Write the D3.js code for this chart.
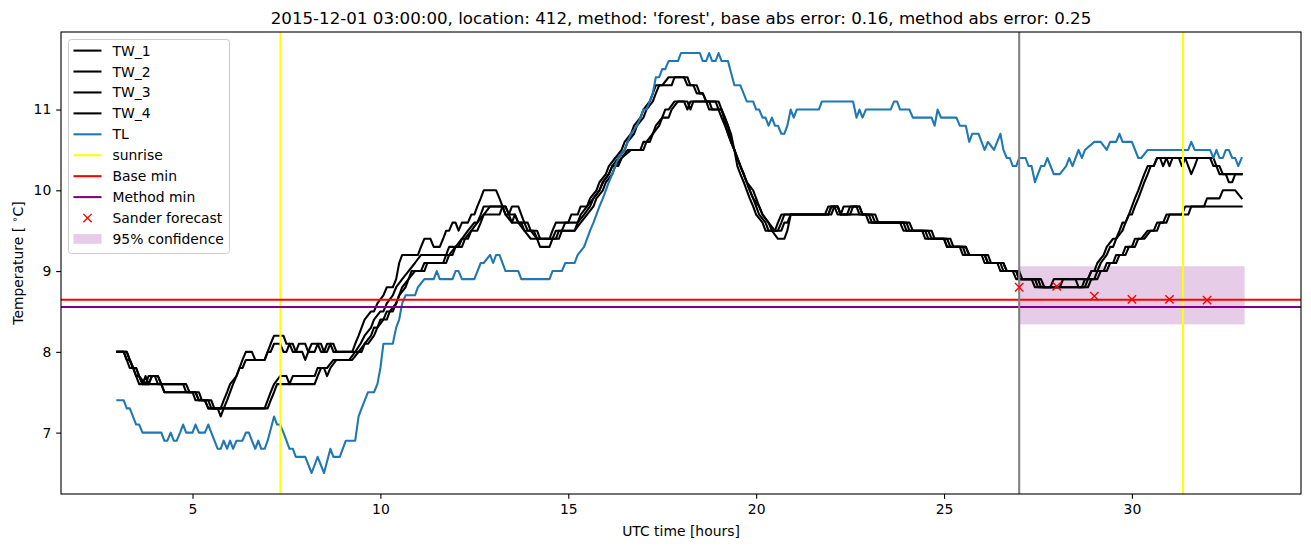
<!DOCTYPE html>
<html><head><meta charset="utf-8">
<script src="https://cdn.jsdelivr.net/npm/d3@7"></script>
<style>body{margin:0;background:#fff} svg{display:block} text{font-family:"DejaVu Sans",sans-serif;fill:#000}</style>
</head><body><svg id="c" width="1311" height="547"></svg>
<script>
// ---- data (time in hours UTC, temperature in °C) ----
const TW_1 = [[3.0,8.0],[3.17,8.0],[3.25,7.9],[3.33,7.8],[3.42,7.8],[3.5,7.7],[3.58,7.6],[3.67,7.6],[3.75,7.7],[3.83,7.6],[3.92,7.7],[4.08,7.7],[4.17,7.6],[4.83,7.6],[4.92,7.5],[5.08,7.5],[5.17,7.4],[5.33,7.4],[5.42,7.3],[5.67,7.3],[5.75,7.2],[5.83,7.3],[5.92,7.4],[6.0,7.5],[6.08,7.6],[6.17,7.7],[6.25,7.8],[6.33,7.9],[6.42,8.0],[6.58,8.0],[6.67,7.9],[6.92,7.9],[7.0,8.0],[7.08,8.1],[7.17,8.2],[7.42,8.2],[7.5,8.1],[7.67,8.1],[7.75,8.0],[7.83,8.1],[8.0,8.1],[8.08,8.0],[8.17,8.1],[8.42,8.1],[8.5,8.0],[8.58,8.1],[8.75,8.1],[8.83,8.0],[9.25,8.0],[9.33,8.1],[9.42,8.2],[9.5,8.3],[9.58,8.4],[9.75,8.5],[9.83,8.5],[9.92,8.6],[10.08,8.7],[10.17,8.8],[10.33,8.8],[10.42,8.9],[10.5,9.1],[10.58,9.2],[11.0,9.2],[11.08,9.3],[11.17,9.4],[11.33,9.4],[11.42,9.3],[11.58,9.3],[11.67,9.4],[11.75,9.5],[11.83,9.5],[11.92,9.6],[12.0,9.6],[12.08,9.5],[12.17,9.6],[12.33,9.6],[12.42,9.7],[12.5,9.7],[12.58,9.8],[12.67,9.9],[12.75,10.0],[13.08,10.0],[13.17,9.9],[13.25,9.8],[13.33,9.7],[13.42,9.7],[13.5,9.8],[13.67,9.8],[13.75,9.7],[13.83,9.6],[13.92,9.5],[14.17,9.5],[14.25,9.4],[14.5,9.4],[14.58,9.5],[14.67,9.6],[15.0,9.6],[15.08,9.7],[15.25,9.7],[15.33,9.8],[15.5,9.8],[15.58,9.9],[15.75,10.0],[15.83,10.1],[16.0,10.2],[16.08,10.3],[16.25,10.4],[16.42,10.5],[16.5,10.6],[16.67,10.7],[16.75,10.8],[16.92,10.9],[17.0,11.0],[17.17,11.1],[17.25,11.2],[17.33,11.3],[17.5,11.3],[17.67,11.4],[18.17,11.4],[18.25,11.3],[18.42,11.3],[18.5,11.2],[18.58,11.2],[18.67,11.1],[18.92,11.1],[19.0,11.0],[19.08,11.0],[19.17,10.9],[19.25,10.8],[19.33,10.6],[19.42,10.5],[19.5,10.3],[19.58,10.2],[19.67,10.1],[19.75,10.0],[19.83,9.9],[19.92,9.8],[20.0,9.7],[20.17,9.6],[20.25,9.5],[20.5,9.5],[20.58,9.6],[20.67,9.7],[21.83,9.7],[21.92,9.8],[22.17,9.8],[22.25,9.7],[22.33,9.8],[22.67,9.8],[22.75,9.7],[23.0,9.7],[23.08,9.6],[23.83,9.6],[23.92,9.5],[24.42,9.5],[24.5,9.4],[25.0,9.4],[25.08,9.3],[25.42,9.3],[25.5,9.2],[26.0,9.2],[26.08,9.1],[26.42,9.1],[26.5,9.0],[26.83,9.0],[26.92,8.9],[27.33,8.9],[27.42,8.8],[28.08,8.8],[28.17,8.9],[28.83,8.9],[28.92,9.0],[29.08,9.0],[29.17,9.1],[29.33,9.2],[29.42,9.3],[29.5,9.3],[29.58,9.4],[29.75,9.5],[29.83,9.6],[29.92,9.7],[30.0,9.7],[30.08,9.8],[30.17,9.9],[30.25,10.0],[30.33,10.1],[30.42,10.2],[30.5,10.3],[30.58,10.3],[30.67,10.4],[30.92,10.4],[31.0,10.3],[31.08,10.4],[31.42,10.4],[31.5,10.3],[31.58,10.2],[31.67,10.3],[31.75,10.4],[32.17,10.4],[32.25,10.3],[32.33,10.2],[32.5,10.2],[32.58,10.1],[32.67,10.1],[32.75,10.2],[32.92,10.2]];
const TW_2 = [[3.0,8.0],[3.25,8.0],[3.33,7.9],[3.42,7.8],[3.5,7.8],[3.58,7.7],[3.67,7.6],[3.75,7.6],[3.83,7.7],[4.0,7.7],[4.08,7.6],[4.75,7.6],[4.83,7.5],[5.0,7.5],[5.08,7.4],[5.33,7.4],[5.42,7.3],[5.75,7.3],[5.83,7.4],[5.92,7.5],[6.0,7.6],[6.17,7.7],[6.25,7.8],[6.33,7.8],[6.42,7.9],[6.92,7.9],[7.0,8.0],[7.08,8.0],[7.17,8.1],[7.33,8.1],[7.42,8.0],[7.5,8.0],[7.58,8.1],[7.67,8.0],[7.92,8.0],[8.0,7.9],[8.08,8.0],[8.25,8.0],[8.33,8.1],[8.42,8.0],[8.58,8.0],[8.67,8.1],[8.75,8.0],[9.33,8.0],[9.47,8.1],[9.58,8.2],[9.75,8.3],[9.83,8.4],[10.0,8.5],[10.08,8.5],[10.17,8.6],[10.33,8.7],[10.42,8.8],[10.58,8.9],[10.75,9.0],[10.92,9.1],[11.08,9.2],[11.75,9.2],[11.83,9.3],[12.08,9.3],[12.17,9.4],[12.33,9.5],[12.5,9.6],[12.58,9.6],[12.67,9.7],[12.75,9.8],[13.25,9.8],[13.33,9.7],[13.5,9.6],[13.58,9.7],[13.67,9.6],[13.83,9.5],[14.08,9.5],[14.17,9.4],[14.25,9.3],[14.5,9.3],[14.58,9.4],[14.67,9.5],[14.83,9.5],[14.92,9.6],[15.25,9.6],[15.33,9.7],[15.5,9.8],[15.67,9.9],[15.83,10.0],[15.92,10.1],[16.08,10.2],[16.17,10.3],[16.33,10.4],[16.5,10.5],[16.58,10.6],[16.75,10.7],[16.83,10.8],[17.0,10.9],[17.08,11.0],[17.25,11.1],[17.33,11.2],[17.42,11.3],[17.75,11.3],[17.83,11.4],[18.08,11.4],[18.17,11.3],[18.33,11.3],[18.42,11.2],[18.58,11.2],[18.67,11.1],[19.0,11.1],[19.08,11.0],[19.25,10.8],[19.33,10.7],[19.42,10.5],[19.5,10.4],[19.58,10.3],[19.75,10.1],[19.83,10.0],[19.92,9.9],[20.0,9.8],[20.08,9.7],[20.25,9.6],[20.33,9.5],[20.58,9.5],[20.67,9.6],[20.75,9.7],[21.92,9.7],[22.0,9.8],[22.08,9.8],[22.17,9.7],[22.42,9.7],[22.5,9.8],[22.75,9.8],[22.83,9.7],[23.08,9.7],[23.17,9.6],[23.92,9.6],[24.0,9.5],[24.5,9.5],[24.58,9.4],[25.08,9.4],[25.17,9.3],[25.5,9.3],[25.58,9.2],[26.08,9.2],[26.17,9.1],[26.5,9.1],[26.58,9.0],[26.92,9.0],[27.0,8.9],[27.42,8.9],[27.5,8.8],[27.83,8.8],[27.92,8.9],[28.5,8.9],[28.58,8.8],[28.67,8.8],[28.75,8.9],[28.83,8.9],[28.92,9.0],[29.0,9.0],[29.08,9.1],[29.25,9.2],[29.33,9.3],[29.5,9.4],[29.58,9.4],[29.67,9.5],[29.75,9.6],[29.83,9.6],[29.92,9.7],[30.08,9.9],[30.17,10.0],[30.25,10.1],[30.33,10.2],[30.42,10.3],[30.58,10.3],[30.67,10.4],[30.75,10.4],[30.83,10.3],[30.92,10.4],[31.25,10.4],[31.33,10.3],[31.42,10.4],[32.08,10.4],[32.17,10.3],[32.33,10.3],[32.42,10.2],[32.92,10.2]];
const TW_3 = [[3.0,8.0],[3.17,8.0],[3.25,7.9],[3.33,7.9],[3.42,7.8],[3.5,7.7],[3.58,7.7],[3.67,7.6],[3.83,7.6],[3.92,7.7],[4.08,7.7],[4.17,7.6],[4.25,7.5],[5.08,7.5],[5.17,7.4],[5.42,7.4],[5.5,7.3],[6.92,7.3],[7.0,7.4],[7.08,7.5],[7.17,7.6],[7.33,7.7],[7.5,7.7],[7.58,7.6],[7.67,7.7],[8.25,7.7],[8.33,7.8],[8.5,7.8],[8.58,7.7],[8.67,7.8],[8.83,7.9],[9.17,7.9],[9.33,8.0],[9.5,8.0],[9.58,8.1],[9.75,8.2],[9.83,8.3],[9.92,8.3],[10.08,8.4],[10.17,8.5],[10.33,8.5],[10.42,8.6],[10.5,8.7],[10.67,8.8],[10.75,8.9],[10.83,9.0],[11.08,9.0],[11.17,9.1],[11.67,9.1],[11.75,9.2],[11.92,9.2],[12.0,9.3],[12.17,9.3],[12.25,9.4],[12.42,9.5],[12.58,9.5],[12.67,9.6],[12.75,9.7],[12.92,9.8],[13.33,9.8],[13.42,9.7],[13.58,9.7],[13.67,9.6],[13.92,9.6],[14.0,9.5],[14.17,9.4],[14.75,9.4],[14.83,9.5],[15.17,9.5],[15.25,9.6],[15.42,9.7],[15.58,9.8],[15.67,9.9],[15.83,10.0],[15.92,10.1],[16.08,10.2],[16.17,10.3],[16.33,10.3],[16.42,10.4],[16.58,10.5],[16.92,10.5],[17.0,10.6],[17.17,10.6],[17.25,10.7],[17.42,10.8],[17.5,10.9],[17.67,10.9],[17.75,11.0],[17.92,11.1],[18.17,11.1],[18.25,11.0],[18.33,11.1],[18.67,11.1],[18.75,11.0],[19.0,11.0],[19.08,10.9],[19.17,10.8],[19.33,10.6],[19.42,10.5],[19.58,10.3],[19.67,10.2],[19.75,10.1],[19.92,10.0],[20.0,9.9],[20.08,9.8],[20.17,9.7],[20.33,9.6],[20.42,9.5],[20.58,9.4],[20.75,9.4],[20.83,9.5],[20.92,9.7],[22.0,9.7],[22.08,9.8],[22.17,9.8],[22.25,9.7],[22.5,9.7],[22.58,9.8],[22.75,9.8],[22.83,9.7],[22.92,9.7],[23.0,9.6],[24.0,9.6],[24.08,9.5],[24.58,9.5],[24.67,9.4],[25.0,9.4],[25.08,9.3],[25.58,9.3],[25.67,9.2],[26.08,9.2],[26.17,9.1],[26.58,9.1],[26.67,9.0],[26.92,9.0],[27.0,8.9],[27.5,8.9],[27.58,8.8],[28.75,8.8],[28.83,8.9],[29.0,8.9],[29.08,9.0],[29.25,9.0],[29.33,9.1],[29.5,9.1],[29.58,9.2],[29.75,9.2],[29.83,9.3],[30.0,9.3],[30.08,9.4],[30.25,9.4],[30.42,9.5],[30.58,9.5],[30.67,9.6],[30.83,9.6],[30.92,9.7],[31.33,9.7],[31.42,9.8],[31.92,9.8],[32.0,9.9],[32.33,9.9],[32.42,10.0],[32.75,10.0],[32.92,9.9]];
const TW_4 = [[3.0,8.0],[3.25,8.0],[3.33,7.9],[3.42,7.8],[3.5,7.8],[3.58,7.7],[3.75,7.6],[4.17,7.6],[4.25,7.5],[5.17,7.5],[5.25,7.4],[5.5,7.4],[5.58,7.3],[7.0,7.3],[7.08,7.4],[7.17,7.5],[7.25,7.6],[8.25,7.6],[8.33,7.7],[8.42,7.8],[8.58,7.8],[8.75,7.9],[9.25,7.9],[9.42,8.0],[9.58,8.1],[9.67,8.1],[9.83,8.2],[9.92,8.3],[10.0,8.4],[10.17,8.4],[10.25,8.5],[10.42,8.6],[10.5,8.7],[10.58,8.8],[10.75,8.9],[10.92,9.0],[11.17,9.0],[11.25,9.1],[11.75,9.1],[11.83,9.2],[12.0,9.3],[12.17,9.4],[12.33,9.4],[12.42,9.5],[12.58,9.6],[12.75,9.7],[13.17,9.7],[13.25,9.8],[13.33,9.8],[13.42,9.7],[13.5,9.6],[13.75,9.6],[13.83,9.5],[14.0,9.4],[14.67,9.4],[14.75,9.5],[15.17,9.5],[15.33,9.6],[15.5,9.7],[15.67,9.8],[15.75,9.9],[15.92,10.0],[16.0,10.1],[16.17,10.2],[16.25,10.3],[16.42,10.4],[16.67,10.5],[17.0,10.5],[17.08,10.6],[17.25,10.7],[17.33,10.8],[17.5,10.9],[17.58,11.0],[17.67,11.0],[17.83,11.1],[18.08,11.1],[18.17,11.0],[18.25,11.1],[18.75,11.1],[18.83,11.0],[19.08,11.0],[19.25,10.7],[19.42,10.5],[19.5,10.4],[19.67,10.2],[19.83,10.0],[19.92,9.9],[20.08,9.8],[20.17,9.7],[20.33,9.6],[20.5,9.5],[20.67,9.5],[20.75,9.6],[20.83,9.6],[20.92,9.7],[21.92,9.7],[22.0,9.8],[22.17,9.8],[22.25,9.7],[23.17,9.7],[23.25,9.6],[24.08,9.6],[24.17,9.5],[24.67,9.5],[24.75,9.4],[25.17,9.4],[25.25,9.3],[25.58,9.3],[25.67,9.2],[26.17,9.2],[26.25,9.1],[26.58,9.1],[26.67,9.0],[27.0,9.0],[27.08,8.9],[27.58,8.9],[27.67,8.8],[28.83,8.8],[28.92,8.9],[29.08,8.9],[29.17,9.0],[29.33,9.0],[29.42,9.1],[29.58,9.1],[29.67,9.2],[29.83,9.2],[29.92,9.3],[30.08,9.3],[30.17,9.4],[30.33,9.4],[30.5,9.5],[30.67,9.5],[30.75,9.6],[30.92,9.6],[31.0,9.7],[31.5,9.7],[31.58,9.8],[32.92,9.8]];
const TL = [[3.0,7.4],[3.17,7.4],[3.25,7.3],[3.33,7.3],[3.5,7.1],[3.58,7.1],[3.67,7.0],[4.17,7.0],[4.25,6.9],[4.33,6.9],[4.42,7.0],[4.5,6.9],[4.58,6.9],[4.67,7.0],[4.75,7.1],[4.83,7.0],[5.0,7.0],[5.08,7.1],[5.17,7.0],[5.33,7.0],[5.42,7.1],[5.5,7.0],[5.67,6.8],[5.75,6.8],[5.83,6.9],[5.92,6.8],[6.0,6.9],[6.08,6.8],[6.17,6.9],[6.33,6.9],[6.42,7.0],[6.5,7.0],[6.58,6.9],[6.67,6.8],[6.75,6.9],[6.83,6.8],[6.92,6.8],[7.0,6.9],[7.17,7.2],[7.25,7.1],[7.33,7.1],[7.42,7.0],[7.5,6.9],[7.58,6.8],[7.67,6.8],[7.75,6.7],[8.0,6.7],[8.17,6.5],[8.33,6.7],[8.5,6.5],[8.67,6.8],[8.75,6.7],[8.92,6.7],[9.08,6.9],[9.33,6.9],[9.42,7.2],[9.5,7.3],[9.67,7.5],[9.83,7.5],[9.92,7.6],[10.0,7.8],[10.08,8.1],[10.33,8.1],[10.42,8.3],[10.5,8.4],[10.58,8.6],[10.67,8.7],[10.92,8.7],[11.0,8.8],[11.17,8.9],[11.42,8.9],[11.5,9.0],[11.58,8.9],[11.92,8.9],[12.0,9.0],[12.08,9.0],[12.17,8.9],[12.5,8.9],[12.67,9.1],[12.75,9.1],[12.92,9.2],[13.0,9.1],[13.08,9.2],[13.17,9.2],[13.33,9.0],[13.67,9.0],[13.75,8.9],[14.5,8.9],[14.58,9.0],[14.83,9.0],[14.92,9.1],[15.17,9.1],[15.25,9.2],[15.42,9.3],[15.5,9.4],[15.58,9.5],[15.67,9.6],[15.83,9.8],[15.92,9.9],[16.0,10.0],[16.08,10.1],[16.17,10.2],[16.25,10.3],[16.33,10.4],[16.5,10.5],[16.58,10.6],[16.67,10.7],[16.83,10.8],[16.92,10.9],[17.0,11.0],[17.08,11.0],[17.17,11.1],[17.25,11.2],[17.33,11.4],[17.42,11.4],[17.5,11.5],[17.58,11.5],[17.67,11.6],[17.92,11.6],[18.0,11.7],[18.5,11.7],[18.58,11.6],[18.67,11.6],[18.75,11.7],[18.83,11.6],[18.92,11.6],[19.0,11.7],[19.08,11.6],[19.25,11.6],[19.42,11.3],[19.58,11.3],[19.75,11.1],[19.92,11.1],[20.0,11.0],[20.08,11.0],[20.17,10.9],[20.25,10.9],[20.33,10.8],[20.42,10.9],[20.5,10.8],[20.58,10.8],[20.67,10.7],[20.75,10.7],[20.83,10.8],[20.92,11.0],[21.0,10.9],[21.08,11.0],[21.67,11.0],[21.75,11.1],[22.58,11.1],[22.67,10.9],[22.75,11.0],[22.83,10.9],[22.92,11.0],[23.58,11.0],[23.67,11.1],[23.75,11.1],[23.83,11.0],[24.08,11.0],[24.17,10.9],[24.67,10.9],[24.75,10.8],[24.83,11.0],[24.92,10.9],[25.33,10.9],[25.42,10.8],[25.58,10.8],[25.67,10.6],[25.75,10.7],[25.92,10.7],[26.08,10.5],[26.17,10.6],[26.33,10.5],[26.5,10.7],[26.58,10.5],[26.67,10.4],[26.75,10.4],[26.83,10.3],[26.92,10.3],[27.0,10.4],[27.17,10.4],[27.25,10.3],[27.33,10.3],[27.42,10.1],[27.5,10.2],[27.58,10.3],[27.67,10.3],[27.75,10.4],[27.92,10.2],[28.08,10.2],[28.25,10.3],[28.33,10.4],[28.42,10.3],[28.58,10.5],[28.67,10.4],[28.75,10.5],[29.0,10.6],[29.17,10.6],[29.33,10.5],[29.42,10.6],[29.58,10.6],[29.67,10.7],[29.75,10.6],[30.0,10.6],[30.17,10.4],[30.25,10.4],[30.42,10.5],[31.5,10.5],[31.58,10.6],[31.67,10.5],[32.08,10.5],[32.17,10.4],[32.25,10.5],[32.33,10.4],[32.42,10.4],[32.5,10.5],[32.58,10.5],[32.67,10.4],[32.75,10.4],[32.83,10.3],[32.92,10.4]];
const sunriseTimes = [7.34, 31.36];
const forecastStart = 27.0;
const baseMin = 8.644;
const methodMin = 8.556;
const forecastTimes = [27, 28, 29, 30, 31, 32];
const forecastValues = [8.80, 8.81, 8.69, 8.65, 8.65, 8.64];
const confTimes = [27, 33];
const confLow = 8.34, confHigh = 9.06;
const xTicks = [5, 10, 15, 20, 25, 30];
const yTicks = [7, 8, 9, 10, 11];
const xDomain = [1.5, 34.5];
const yDomain = [6.24, 11.96];
const titleText = "2015-12-01 03:00:00, location: 412, method: 'forest', base abs error: 0.16, method abs error: 0.25";

// ---- layout ----
const L = 61, R = 1301, T = 32, B = 494;
const svg = d3.select("#c");
const x = d3.scaleLinear().domain(xDomain).range([L, R]);
const y = d3.scaleLinear().domain(yDomain).range([B, T]);

svg.append("defs").append("clipPath").attr("id", "clip")
  .append("rect").attr("x", L).attr("y", T).attr("width", R - L).attr("height", B - T);
const plot = svg.append("g").attr("clip-path", "url(#clip)");

// confidence band
plot.append("rect")
  .attr("x", x(confTimes[0])).attr("width", x(confTimes[1]) - x(confTimes[0]))
  .attr("y", y(confHigh)).attr("height", y(confLow) - y(confHigh))
  .attr("fill", "purple").attr("fill-opacity", 0.2);

const line = d3.line().x(d => x(d[0])).y(d => y(d[1]));
const lw = 2.08;
[TW_1, TW_2, TW_3, TW_4].forEach(s => {
  plot.append("path").datum(s).attr("d", line).attr("fill", "none")
    .attr("stroke", "black").attr("stroke-width", lw).attr("stroke-linejoin", "round").attr("stroke-linecap", "square");
});
plot.append("path").datum(TL).attr("d", line).attr("fill", "none")
  .attr("stroke", "#1f77b4").attr("stroke-width", lw).attr("stroke-linejoin", "round").attr("stroke-linecap", "square");

sunriseTimes.forEach(t => {
  plot.append("line").attr("x1", x(t)).attr("x2", x(t)).attr("y1", T).attr("y2", B)
    .attr("stroke", "yellow").attr("stroke-width", lw);
});
plot.append("line").attr("x1", L).attr("x2", R).attr("y1", y(baseMin)).attr("y2", y(baseMin))
  .attr("stroke", "red").attr("stroke-width", lw);
plot.append("line").attr("x1", L).attr("x2", R).attr("y1", y(methodMin)).attr("y2", y(methodMin))
  .attr("stroke", "purple").attr("stroke-width", lw);
plot.append("line").attr("x1", x(forecastStart)).attr("x2", x(forecastStart)).attr("y1", T).attr("y2", B)
  .attr("stroke", "gray").attr("stroke-width", lw);

const ms = 4.17;
const xMark = `M${-ms},${-ms}L${ms},${ms}M${-ms},${ms}L${ms},${-ms}`;
forecastTimes.forEach((t, i) => {
  plot.append("path").attr("d", xMark)
    .attr("transform", `translate(${x(t)},${y(forecastValues[i])})`)
    .attr("stroke", "red").attr("stroke-width", 1.4).attr("fill", "none");
});

// axes
const fs = 13.9;
const xAxis = svg.append("g").attr("transform", `translate(0,${B})`)
  .call(d3.axisBottom(x).tickValues(xTicks).tickSize(4.86).tickPadding(4.86).tickFormat(d3.format("d")));
const yAxis = svg.append("g").attr("transform", `translate(${L},0)`)
  .call(d3.axisLeft(y).tickValues(yTicks).tickSize(4.86).tickPadding(4.86).tickFormat(d3.format("d")));
[xAxis, yAxis].forEach(a => {
  a.select(".domain").remove();
  a.selectAll(".tick line").attr("stroke", "black").attr("stroke-width", 1.1);
  a.selectAll(".tick text").attr("font-size", fs).attr("font-family", "DejaVu Sans").attr("fill", "black");
});
svg.append("rect").attr("x", L).attr("y", T).attr("width", R - L).attr("height", B - T)
  .attr("fill", "none").attr("stroke", "black").attr("stroke-width", 1.1);

// labels
svg.append("text").attr("x", (L + R) / 2).attr("y", 535.5).attr("text-anchor", "middle")
  .attr("font-size", fs).text("UTC time [hours]");
const yl = svg.append("text").attr("transform", `translate(23,${(T + B) / 2}) rotate(-90)`)
  .attr("text-anchor", "middle").attr("font-size", fs);
yl.append("tspan").text("Temperature [ ");
yl.append("tspan").attr("font-size", fs * 0.7).attr("dy", -5).text("\u2218");
yl.append("tspan").attr("dy", 5).text("C]");
svg.append("text").attr("x", (L + R) / 2).attr("y", 23.5).attr("text-anchor", "middle")
  .attr("font-size", 16.67).text(titleText);

// legend
const legendLabels = ["TW_1", "TW_2", "TW_3", "TW_4", "TL", "sunrise", "Base min", "Method min", "Sander forecast", "95% confidence"];
const legendKinds = ["line", "line", "line", "line", "line", "line", "line", "line", "marker", "patch"];
const legendColors = ["black", "black", "black", "black", "#1f77b4", "yellow", "red", "purple", "red", "purple"];
const lg = svg.append("g");
lg.append("rect").attr("x", 68.5).attr("y", 39.5).attr("width", 161).attr("height", 214).attr("rx", 2.8)
  .attr("fill", "white").attr("fill-opacity", 0.8).attr("stroke", "#cccccc").attr("stroke-width", 1);
legendLabels.forEach((lab, i) => {
  const cy = 50.6 + i * 20.93;
  if (legendKinds[i] === "line") {
    lg.append("line").attr("x1", 73.5).attr("x2", 101.5).attr("y1", cy).attr("y2", cy)
      .attr("stroke", legendColors[i]).attr("stroke-width", lw);
  } else if (legendKinds[i] === "marker") {
    lg.append("path").attr("d", xMark).attr("transform", `translate(87.5,${cy})`)
      .attr("stroke", legendColors[i]).attr("stroke-width", 1.4).attr("fill", "none");
  } else {
    lg.append("rect").attr("x", 73.5).attr("y", cy - 4.9).attr("width", 28).attr("height", 9.7)
      .attr("fill", legendColors[i]).attr("fill-opacity", 0.2);
  }
  lg.append("text").attr("x", 112.5).attr("y", cy).attr("dy", "0.36em").attr("font-size", fs).text(lab);
});
</script></body></html>
